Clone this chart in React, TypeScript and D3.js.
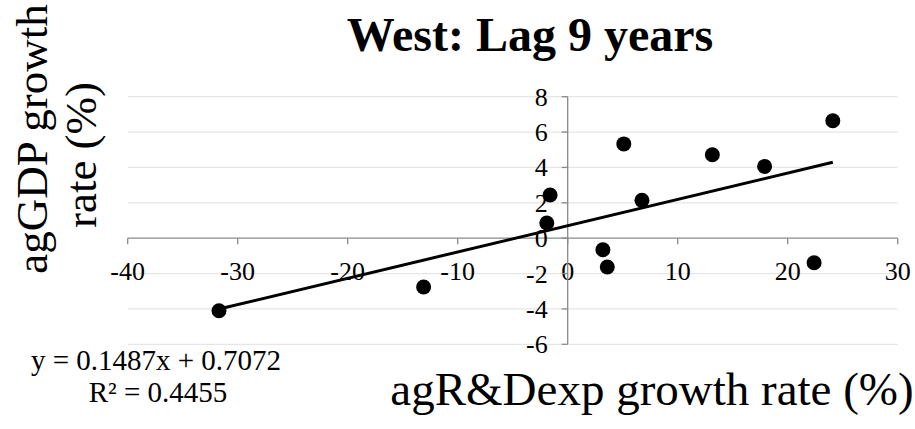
import React from 'react';
import * as d3 from 'd3';

// R&D expenditure growth (x) vs agGDP growth (y), West region, 9-year lag
const xValues = [-31.7, -13.1, -1.9, -1.6, 3.2, 3.6, 5.1, 6.75, 13.15, 17.9, 22.4, 24.1];
const yValues = [-4.1, -2.76, 0.86, 2.44, -0.65, -1.63, 5.33, 2.14, 4.72, 4.06, -1.39, 6.64];

const xTicks = [-40, -30, -20, -10, 0, 10, 20, 30];
const yTicks = [-6, -4, -2, 0, 2, 4, 6, 8];

const slope = 0.1487;
const intercept = 0.7072;
const rSquared = 0.4455;

const W = 915;
const H = 429;
const font = '"Liberation Serif", "Times New Roman", serif';

export default function App() {
  const x = d3.scaleLinear().domain([-40, 30]).range([127.7, 897.7]);
  const y = d3.scaleLinear().domain([-6, 8]).range([344.3, 96.7]);

  const points = xValues.map((v, i) => ({ x: v, y: yValues[i] }));

  const [xMin, xMax] = d3.extent(xValues) as [number, number];
  const trend = d3.line<number>()
    .x(d => x(d))
    .y(d => y(slope * d + intercept));

  const axisColor = '#898989';
  const gridColor = '#e6e6e6';

  return (
    <svg width={W} height={H} style={{ position: 'absolute', left: 0, top: 0, background: '#fff' }}
      fontFamily={font}>
      {/* gridlines */}
      {yTicks.filter(t => t !== 0).map(t => (
        <line key={'g' + t} x1={x(-40)} x2={x(30)} y1={y(t)} y2={y(t)}
          stroke={gridColor} strokeWidth={1.3} />
      ))}

      {/* x axis */}
      <line x1={x(-40)} x2={x(30)} y1={y(0)} y2={y(0)} stroke={axisColor} strokeWidth={1.3} />
      {xTicks.map(t => (
        <g key={'xt' + t}>
          <line x1={x(t)} x2={x(t)} y1={y(0)} y2={y(0) + 6} stroke={axisColor} strokeWidth={1.3} />
          <text x={x(t)} y={y(0) + 42} textAnchor="middle" fontSize={26} fill="#000">{t}</text>
        </g>
      ))}

      {/* y axis */}
      <line x1={x(0)} x2={x(0)} y1={y(-6)} y2={y(8)} stroke={axisColor} strokeWidth={1.3} />
      {yTicks.map(t => (
        <g key={'yt' + t}>
          <line x1={x(0) - 6} x2={x(0)} y1={y(t)} y2={y(t)} stroke={axisColor} strokeWidth={1.3} />
          <text x={x(0) - 20} y={y(t) + 9} textAnchor="end" fontSize={26} fill="#000">{t}</text>
        </g>
      ))}

      {/* data points */}
      {points.map((p, i) => (
        <circle key={i} cx={x(p.x)} cy={y(p.y)} r={7.5} fill="#000" />
      ))}

      {/* linear trendline */}
      <path d={trend([xMin, xMax]) ?? ''} fill="none" stroke="#000" strokeWidth={3} />

      {/* title */}
      <text x={530} y={51} textAnchor="middle" fontSize={48} fontWeight="bold" fill="#000">
        West: Lag 9 years
      </text>

      {/* axis titles */}
      <text x={652} y={405} textAnchor="middle" fontSize={47} fill="#000">agR&amp;Dexp growth rate (%)</text>
      <g transform="rotate(-90)">
        <text x={-139} y={47} textAnchor="middle" fontSize={45} fill="#000">agGDP growth</text>
        <text x={-155} y={96} textAnchor="middle" fontSize={45} fill="#000">rate (%)</text>
      </g>

      {/* trendline equation */}
      <text x={156} y={370} textAnchor="middle" fontSize={29} fill="#000">
        {`y = ${slope}x + ${intercept}`}
      </text>
      <text x={158} y={402} textAnchor="middle" fontSize={29} fill="#000">
        {`R² = ${rSquared}`}
      </text>
    </svg>
  );
}
